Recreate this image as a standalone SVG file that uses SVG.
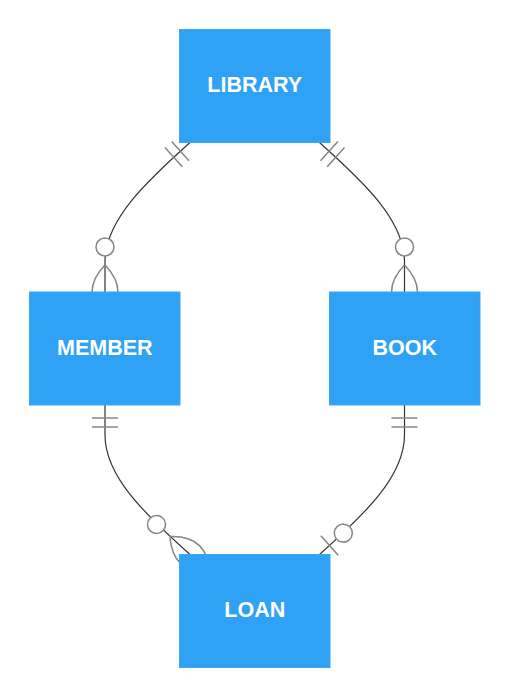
<svg xmlns="http://www.w3.org/2000/svg" width="510" height="697" viewBox="0 0 510 697">
  <style>
    .edge { fill: none; stroke: #333333; stroke-width: 1.2; }
    .mk { fill: none; stroke: #868686; stroke-width: 1.5; }
    .mkc { fill: #ffffff; stroke: #868686; stroke-width: 1.5; }
    .box { fill: #2fa2f6; stroke: #3aa8f6; stroke-width: 1; }
    .lbl { fill: #ffffff; font-family: "Liberation Sans", Arial, sans-serif; font-weight: bold; font-size: 21.5px; text-anchor: middle; }
  </style>
  <defs>
    <marker id="one" markerUnits="userSpaceOnUse" orient="auto-start-reverse" refX="0" refY="0" markerWidth="60" markerHeight="60" overflow="visible">
      <path class="mk" d="M-13,-13 L-13,13 M-22,-13 L-22,13"/>
    </marker>
    <marker id="zeroMany" markerUnits="userSpaceOnUse" orient="auto-start-reverse" refX="0" refY="0" markerWidth="60" markerHeight="60" overflow="visible">
      <path class="mk" d="M-27,0 Q0,-26 27,0 Q0,26 -27,0"/>
      <circle class="mkc" cx="-45" cy="0" r="9"/>
    </marker>
    <marker id="zeroOne" markerUnits="userSpaceOnUse" orient="auto-start-reverse" refX="0" refY="0" markerWidth="60" markerHeight="60" overflow="visible">
      <path class="mk" d="M-13.5,-13 L-13.5,13"/>
      <circle class="mkc" cx="-32" cy="0" r="9"/>
    </marker>
  </defs>

  <g id="connectors">
    <path id="library-member" class="edge" d="M190,142.5 C146,182 105,220 105,262 L105,292" marker-start="url(#one)" marker-end="url(#zeroMany)"/>
    <path id="library-book" class="edge" d="M319.5,142.5 C363.5,182 404.5,220 404.5,262 L404.5,292" marker-start="url(#one)" marker-end="url(#zeroMany)"/>
    <path id="member-loan" class="edge" d="M105,405 L105,435 C105,477 146,515 190,554.5" marker-start="url(#one)" marker-end="url(#zeroMany)"/>
    <path id="book-loan" class="edge" d="M404.5,405 L404.5,435 C404.5,477 363.5,515 319.5,554.5" marker-start="url(#one)" marker-end="url(#zeroOne)"/>
  </g>

  <g id="node-library">
    <rect class="box" x="179.5" y="29.5" width="150.5" height="113"/>
    <text class="lbl" x="254.75" y="91.5">LIBRARY</text>
  </g>
  <g id="node-member">
    <rect class="box" x="29.5" y="292" width="150.5" height="113"/>
    <text class="lbl" x="104.75" y="354.5">MEMBER</text>
  </g>
  <g id="node-book">
    <rect class="box" x="329.5" y="292" width="150.5" height="113"/>
    <text class="lbl" x="404.75" y="354.5">BOOK</text>
  </g>
  <g id="node-loan">
    <rect class="box" x="179.5" y="554.5" width="150.5" height="113"/>
    <text class="lbl" x="254.75" y="616.5">LOAN</text>
  </g>
</svg>
